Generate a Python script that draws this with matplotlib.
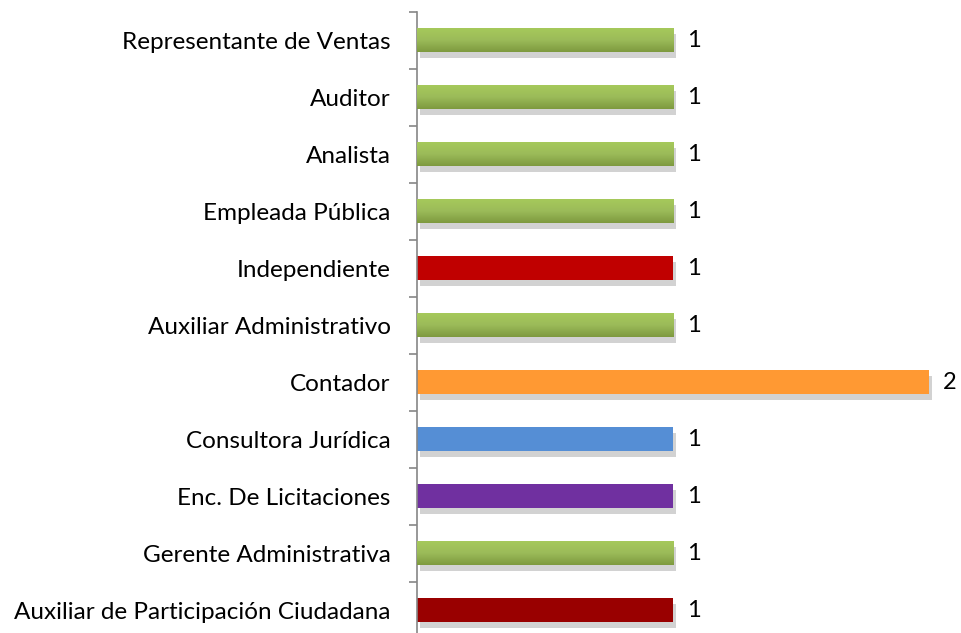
import matplotlib.pyplot as plt
import matplotlib.patheffects as pe
import numpy as np
from matplotlib.colors import LinearSegmentedColormap

# categories from top to bottom as shown
categories = ['Representante de Ventas', 'Auditor', 'Analista', 'Empleada Pública',
              'Independiente', 'Auxiliar Administrativo', 'Contador',
              'Consultora Jurídica', 'Enc. De Licitaciones', 'Gerente Administrativa',
              'Auxiliar de Participación Ciudadana']
values = [1, 1, 1, 1, 1, 1, 2, 1, 1, 1, 1]
colors = ['green', 'green', 'green', 'green', '#C00000', 'green', '#FF9933',
          '#558ED5', '#7030A0', 'green', '#990000']

plt.rcParams['font.family'] = ['Lato', 'DejaVu Sans']

fig = plt.figure(figsize=(9.62, 6.33), dpi=100)
ax = fig.add_axes([417 / 962, -5.5 / 633, 537 / 962, 626.5 / 633])

n = len(categories)
ypos = np.arange(n)[::-1]
h = 0.42
xmax = 537 / 256.0

green_cmap = LinearSegmentedColormap.from_list('g', ['#7E9A3F', '#9BBB59', '#A6C95B'])
shadow = [pe.SimplePatchShadow(offset=(2, -4), shadow_rgbFace='#A6A6A6', alpha=0.5), pe.Normal()]

for y, v, c in zip(ypos, values, colors):
    face = '#9BBB59' if c == 'green' else c
    ax.barh(y, v, height=h, color=face, linewidth=0, path_effects=shadow, zorder=2)
    if c == 'green':
        grad = np.linspace(0, 1, 64).reshape(-1, 1)
        ax.imshow(grad, cmap=green_cmap, aspect='auto', origin='lower',
                  extent=[0, v, y - h / 2, y + h / 2], zorder=3)
    ax.text(v + 0.055, y, str(v), va='center', ha='left', fontsize=17, color='black')

ax.set_xlim(0, xmax)
ax.set_ylim(-0.5, n - 0.5)

for s in ['top', 'right', 'bottom']:
    ax.spines[s].set_visible(False)
ax.spines['left'].set_color('#868686')
ax.spines['left'].set_linewidth(1.2)
ax.set_xticks([])

ax.set_yticks(np.arange(n + 1) - 0.5)
ax.set_yticklabels([])
ax.tick_params(axis='y', which='major', length=6, width=1.2, color='#868686', direction='out')
ax.set_yticks(ypos, minor=True)
ax.set_yticklabels(categories, minor=True, fontsize=17.5)
ax.tick_params(axis='y', which='minor', length=0, pad=19)

fig.savefig('out.png', dpi=100)
